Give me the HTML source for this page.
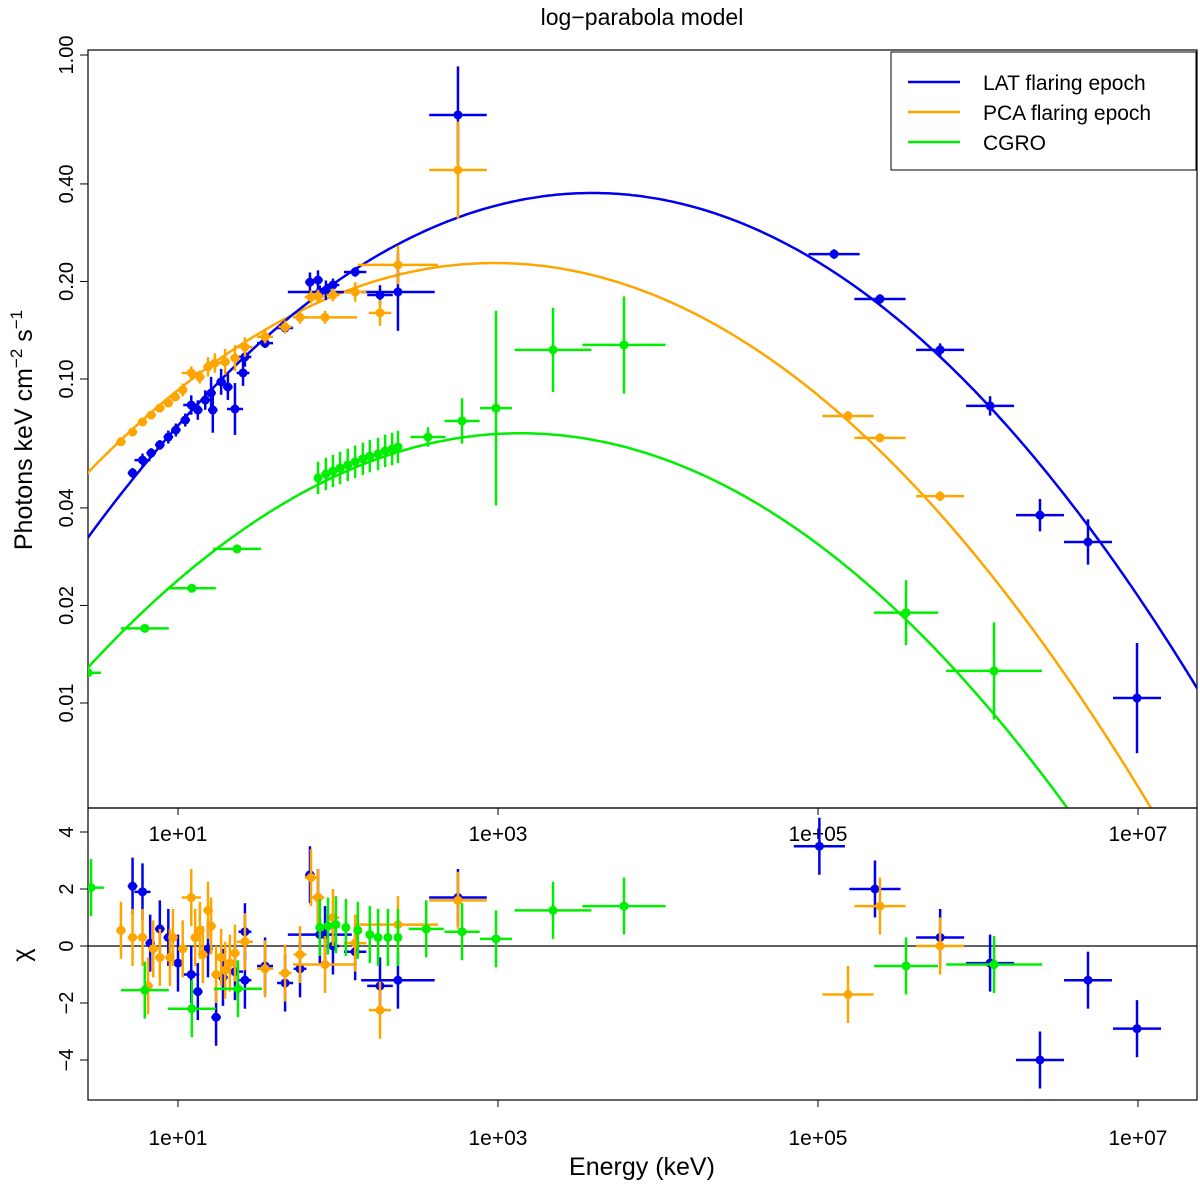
<!DOCTYPE html>
<html><head><meta charset="utf-8"><style>
body{margin:0;background:#fff}
svg{display:block;font-family:"Liberation Sans",sans-serif}
</style></head><body>
<svg id="chart" width="1200" height="1186" viewBox="0 0 1200 1186" xmlns="http://www.w3.org/2000/svg">
<text x="642" y="25" font-size="23" text-anchor="middle">log−parabola model</text>
<g id="topG"></g><g id="botG"></g>
<text x="642" y="1175" font-size="25" text-anchor="middle">Energy (keV)</text>
<text transform="translate(32,430) rotate(-90)" font-size="25" text-anchor="middle">Photons keV cm<tspan dy="-10" font-size="17">−2</tspan><tspan dy="10"> s</tspan><tspan dy="-10" font-size="17">−1</tspan></text>
<text transform="translate(30,955) rotate(-90)" font-size="25" text-anchor="middle">χ</text>
<g>
<rect x="891" y="52" width="305" height="118" fill="#fff" stroke="#000" stroke-width="1"/>
<line x1="908" y1="82" x2="960" y2="82" stroke="#0000ee" stroke-width="2.5"/>
<text x="983" y="90" font-size="21">LAT flaring epoch</text>
<line x1="908" y1="112" x2="960" y2="112" stroke="#ffa500" stroke-width="2.5"/>
<text x="983" y="120" font-size="21">PCA flaring epoch</text>
<line x1="908" y1="142" x2="960" y2="142" stroke="#00ee00" stroke-width="2.5"/>
<text x="983" y="150" font-size="21">CGRO</text>
</g>
</svg>
<script>
const xTicks=[10,1000,100000,10000000];
const xTickLabels=["1e+01","1e+03","1e+05","1e+07"];
const yTicks=[0.01,0.02,0.04,0.10,0.20,0.40,1.00];
const yTickLabels=["0.01","0.02","0.04","0.10","0.20","0.40","1.00"];
const chiTicks=[-4,-2,0,2,4];
const chiTickLabels=["−4","−2","0","2","4"];
const modelBlue=[3890,0.375,0.107];
const modelOrange=[955,0.228,0.10];
const modelGreen=[1380,0.068,0.099];
const blueE=[5.2,6.0,6.8,7.7,8.7,9.7,11.1,12.1,13.3,14.8,16.1,16.5,18.6,20.5,22.7,25.5,26.2,35,46.7,66.8,75,77,84,93,128,183,237,562,1.26e5,2.44e5,5.8e5,1.19e6,2.44e6,4.87e6,9.86e6];
const blueF=[0.0513,0.0562,0.0591,0.0626,0.0662,0.0696,0.0747,0.0831,0.0802,0.0861,0.0905,0.0802,0.098,0.0945,0.0808,0.1044,0.117,0.129,0.1437,0.199,0.202,0.1856,0.188,0.195,0.214,0.1817,0.1856,0.653,0.243,0.1766,0.123,0.0826,0.038,0.0314,0.01036];
const blueXe=[0.03,0.05,0.03,0.03,0.03,0.03,0.03,0.05,0.03,0.03,0.03,0.03,0.03,0.03,0.05,0.04,0.04,0.05,0.05,0.03,0.03,0.2,0.03,0.04,0.07,0.08,0.23,0.18,0.16,0.16,0.15,0.15,0.15,0.15,0.15];
const blueYe=[0.015,0.02,0.015,0.015,0.02,0.02,0.02,0.03,0.03,0.03,0.05,0.07,0.04,0.04,0.08,0.04,0.03,0.015,0.015,0.03,0.03,0.02,0.03,0.02,0.015,0.03,0.12,0.15,0.015,0.015,0.02,0.03,0.05,0.07,0.17];
const orangeE=[4.4,5.2,6.0,6.8,7.7,8.7,9.6,10.7,12.1,13.7,15.4,17.0,19.7,22.7,26.2,35,46.7,57.9,67.8,75,83,93,128,183,237,562,1.54e5,2.44e5,5.8e5];
const orangeF=[0.064,0.0686,0.0737,0.0774,0.0813,0.0843,0.088,0.0925,0.1044,0.1014,0.109,0.112,0.113,0.116,0.1255,0.135,0.1447,0.155,0.179,0.180,0.155,0.1817,0.1856,0.160,0.225,0.4415,0.0769,0.0658,0.0435];
const orangeXe=[0.03,0.03,0.03,0.03,0.03,0.03,0.03,0.03,0.06,0.03,0.03,0.05,0.03,0.03,0.05,0.05,0.04,0.04,0.04,0.04,0.2,0.04,0.07,0.07,0.25,0.18,0.16,0.16,0.15];
const orangeYe=[0.01,0.01,0.01,0.01,0.01,0.01,0.01,0.02,0.02,0.02,0.03,0.03,0.04,0.04,0.03,0.02,0.02,0.02,0.02,0.02,0.02,0.02,0.03,0.04,0.06,0.15,0.015,0.01,0.015];
const greenE=[2.74,6.2,12.2,23.4,75,84,93,103,115,128,143,158,178,197,218,237,365,596,972,2208,6130,3.55e5,1.26e6];
const greenF=[0.0124,0.017,0.0226,0.0299,0.0495,0.0509,0.052,0.0531,0.0543,0.0555,0.0567,0.0578,0.0587,0.06,0.0608,0.0617,0.0662,0.0742,0.0813,0.123,0.1274,0.019,0.01256];
const greenXe=[0.08,0.15,0.15,0.15,0.02,0.02,0.02,0.02,0.02,0.02,0.02,0.02,0.02,0.02,0.02,0.02,0.11,0.11,0.1,0.24,0.26,0.2,0.3];
const greenYe=[0.01,0.01,0.01,0.01,0.05,0.05,0.05,0.05,0.05,0.05,0.05,0.05,0.05,0.05,0.05,0.05,0.03,0.07,0.3,0.13,0.15,0.1,0.15];
const blueRE=[5.2,6.0,6.7,7.7,8.7,10,12.1,13.3,15.4,17.3,19.1,22.7,26.2,26.2,35,46.7,57.9,66.8,75,77,83,93,128,183,237,562,1.02e5,2.27e5,5.8e5,1.19e6,2.44e6,4.87e6,9.86e6];
const blueR=[2.1,1.9,0.1,0.6,0.3,-0.6,-1.0,-1.6,-0.1,-2.5,-1.1,-0.9,0.5,-1.2,-0.7,-1.3,-0.8,2.5,1.7,0.4,0.4,0,-0.2,-1.4,-1.2,1.7,3.5,2.0,0.3,-0.6,-4.0,-1.2,-2.9];
const blueRXe=[0.03,0.05,0.03,0.03,0.03,0.03,0.05,0.03,0.03,0.03,0.03,0.05,0.04,0.04,0.05,0.05,0.04,0.03,0.03,0.2,0.03,0.04,0.07,0.08,0.23,0.18,0.16,0.16,0.15,0.15,0.15,0.15,0.15];
const orangeRE=[4.4,5.2,6.0,6.5,7.0,7.7,8.9,9.3,10.7,12.1,12.8,13.7,14.3,15.4,16.1,17.3,18.6,19.7,21.1,22.7,26.2,35,46.7,57.9,67.8,75,83,93,128,183,237,562,1.54e5,2.44e5,5.8e5];
const orangeR=[0.55,0.3,0.3,-1.4,-0.1,-0.4,-0.4,0.3,-0.1,1.7,0.3,0.55,-0.3,1.25,0.7,-1.0,-0.4,-0.85,-0.6,-0.25,0.15,-0.8,-0.95,-0.3,2.4,1.7,-0.65,1.0,0.1,-2.25,0.75,1.6,-1.7,1.4,0.0];
const orangeRXe=[0.03,0.03,0.03,0.03,0.03,0.03,0.03,0.03,0.03,0.06,0.03,0.03,0.03,0.03,0.03,0.03,0.03,0.03,0.03,0.03,0.05,0.05,0.04,0.04,0.04,0.04,0.2,0.04,0.07,0.07,0.25,0.18,0.16,0.16,0.15];
const greenRE=[2.86,6.2,12.2,23.7,77,86.6,97,112,133,158,178,205,237,356,596,972,2208,6130,3.55e5,1.26e6];
const greenR=[2.05,-1.55,-2.2,-1.5,0.65,0.7,0.75,0.65,0.55,0.4,0.3,0.3,0.3,0.6,0.5,0.25,1.25,1.4,-0.7,-0.65];
const greenRXe=[0.08,0.15,0.15,0.15,0.02,0.02,0.02,0.02,0.02,0.02,0.02,0.02,0.02,0.11,0.11,0.1,0.24,0.26,0.2,0.3];
const chiErr=[1];

const NS="http://www.w3.org/2000/svg";
const L=88,R=1197,T1=50,B1=808,T2=808,B2=1100;
const xs=e=>178+(Math.log10(e)-1)*160;
const ys=f=>55-Math.log10(f)*324;
const yc=c=>946-c*28.5;
function mk(parent,tag,attrs){const el=document.createElementNS(NS,tag);for(const k in attrs)el.setAttribute(k,attrs[k]);parent.appendChild(el);return el;}
const topG=document.getElementById('topG'),botG=document.getElementById('botG');
const clipDefs=mk(document.getElementById('chart'),'defs',{});
const c1=mk(clipDefs,'clipPath',{id:'c1'});mk(c1,'rect',{x:L,y:T1,width:R-L,height:B1-T1});
const c2=mk(clipDefs,'clipPath',{id:'c2'});mk(c2,'rect',{x:L,y:T2,width:R-L,height:B2-T2});

let f1=mk(topG,'rect',{x:L,y:T1,width:R-L,height:B1-T1,fill:'none',stroke:'#000','stroke-width':1.2});


let f2=mk(botG,'rect',{x:L,y:T2,width:R-L,height:B2-T2,fill:'none',stroke:'#000','stroke-width':1.2});


let z=mk(botG,'line',{x1:L,x2:R,y1:yc(0),y2:yc(0),stroke:'#000','stroke-width':1.2});



xTicks.forEach((t,i)=>{
 const x=xs(t);
 let a=mk(topG,'line',{x1:x,x2:x,y1:B1,y2:B1+7,stroke:'#000'});
 
 
 let tl=mk(topG,'text',{x:x,y:841,'font-size':21,'text-anchor':'middle'});tl.textContent=xTickLabels[i];
 
 
 let b=mk(botG,'line',{x1:x,x2:x,y1:B2,y2:B2+7,stroke:'#000'});
 
 
 let bl=mk(botG,'text',{x:x,y:1145,'font-size':21,'text-anchor':'middle'});bl.textContent=xTickLabels[i];
 
 
});
yTicks.forEach((t,i)=>{
 const y=ys(t);
 let a=mk(topG,'line',{x1:L-8,x2:L,y1:y,y2:y,stroke:'#000'});
 
 
 let tl=mk(topG,'text',{transform:`translate(73,${y}) rotate(-90)`,'font-size':20,'text-anchor':'middle'});tl.textContent=yTickLabels[i];
 
 
});
chiTicks.forEach((t,i)=>{
 const y=yc(t);
 let a=mk(botG,'line',{x1:L-8,x2:L,y1:y,y2:y,stroke:'#000'});
 
 
 let tl=mk(botG,'text',{transform:`translate(73,${y}) rotate(-90)`,'font-size':20,'text-anchor':'middle'});tl.textContent=chiTickLabels[i];
 
 
});

function model(p,name,col){
 let d='';
 for(let lx=0.3;lx<=7.5;lx+=0.02){const lf=Math.log10(p[1])-p[2]*Math.pow(lx-Math.log10(p[0]),2);
  d+=(d?'L':'M')+xs(Math.pow(10,lx)).toFixed(1)+','+ys(Math.pow(10,lf)).toFixed(1);}
 let pth=mk(topG,'path',{d:d,fill:'none',stroke:col,'stroke-width':2.5,'clip-path':'url(#c1)'});
 
 
}
model(modelGreen,'cgro-model-curve','#00ee00');
model(modelOrange,'pca-model-curve','#ffa500');
model(modelBlue,'lat-model-curve','#0000ee');

function pts(E,F,Xe,Ye,name,col){
 const g=mk(topG,'g',{'clip-path':'url(#c1)'});
 
 
 E.forEach((e,i)=>{
  const x=xs(e),y=ys(F[i]),x0=xs(e/Math.pow(10,Xe[i])),x1=xs(e*Math.pow(10,Xe[i]));
  const y0=ys(F[i]/Math.pow(10,Ye[i])),y1=ys(F[i]*Math.pow(10,Ye[i]));
  const p=mk(g,'g',{});
  
  
  mk(p,'line',{x1:x0,x2:x1,y1:y,y2:y,stroke:col,'stroke-width':2.5});
  mk(p,'line',{x1:x,x2:x,y1:y0,y2:y1,stroke:col,'stroke-width':2.5});
  mk(p,'circle',{cx:x,cy:y,r:4.5,fill:col});
 });
}
function res(E,C,Xe,name,col){
 const g=mk(botG,'g',{'clip-path':'url(#c2)'});
 
 
 E.forEach((e,i)=>{
  const x=xs(e),y=yc(C[i]),x0=xs(e/Math.pow(10,Xe[i])),x1=xs(e*Math.pow(10,Xe[i]));
  const p=mk(g,'g',{});
  
  
  mk(p,'line',{x1:x0,x2:x1,y1:y,y2:y,stroke:col,'stroke-width':2.5});
  mk(p,'line',{x1:x,x2:x,y1:yc(C[i]-chiErr[0]),y2:yc(C[i]+chiErr[0]),stroke:col,'stroke-width':2.5});
  mk(p,'circle',{cx:x,cy:y,r:4.5,fill:col});
 });
}
pts(blueE,blueF,blueXe,blueYe,'lat-data','#0000ee');
pts(orangeE,orangeF,orangeXe,orangeYe,'pca-data','#ffa500');
pts(greenE,greenF,greenXe,greenYe,'cgro-data','#00ee00');
res(blueRE,blueR,blueRXe,'lat-residuals','#0000ee');
res(orangeRE,orangeR,orangeRXe,'pca-residuals','#ffa500');
res(greenRE,greenR,greenRXe,'cgro-residuals','#00ee00');
</script>
</body></html>
